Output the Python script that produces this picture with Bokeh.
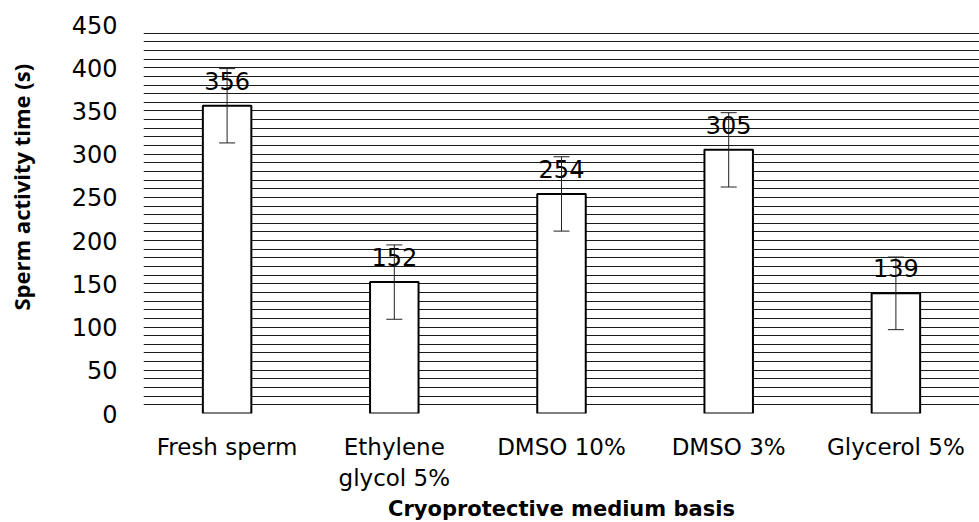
from bokeh.plotting import figure
from bokeh.models import FactorRange, Range1d, FixedTicker, ColumnDataSource, Whisker, TeeHead, Title
from bokeh.core.properties import value
from bokeh.embed import file_html
from bokeh.resources import INLINE

categories = ["Fresh sperm", "Ethylene\nglycol 5%", "DMSO 10%", "DMSO 3%", "Glycerol 5%"]
values = [356, 152, 254, 305, 139]
errors = [43, 43, 43, 43, 42]
y_ticks = [0, 50, 100, 150, 200, 250, 300, 350, 400, 450]
grid_ticks = list(range(10, 450, 10))
x_title = "Cryoprotective medium basis"
y_title = "Sperm activity time (s)"

src = ColumnDataSource(dict(
    x=categories,
    top=values,
    upper=[v + e for v, e in zip(values, errors)],
    lower=[v - e for v, e in zip(values, errors)],
    label=[str(v) for v in values],
))

p = figure(
    width=979, height=522,
    x_range=FactorRange(*categories, range_padding=0),
    y_range=Range1d(0, 450),
    output_backend="svg", toolbar_location=None,
    min_border_left=143, min_border_right=0, min_border_top=24, min_border_bottom=109,
)
p.outline_line_color = None
p.background_fill_color = "white"

p.xgrid.grid_line_color = None
p.ygrid.ticker = FixedTicker(ticks=grid_ticks)
p.ygrid.grid_line_color = "#1a1a1a"
p.ygrid.grid_line_width = 1

p.vbar(x="x", top="top", width=0.29, source=src, fill_color="white",
       line_color="black", line_width=2)

wh = Whisker(source=src, base="x", upper="upper", lower="lower", level="overlay",
             line_color="#222222", line_width=1,
             upper_head=TeeHead(size=16, line_color="#222222", line_width=1),
             lower_head=TeeHead(size=16, line_color="#222222", line_width=1))
p.add_layout(wh)

p.text(x="x", y="top", text="label", source=src, text_align="center",
       text_baseline="alphabetic", y_offset=-25,
       text_font=value("DejaVu Sans"), text_font_size="24px", text_color="black")

p.yaxis.ticker = FixedTicker(ticks=y_ticks)
p.yaxis.axis_line_color = None
p.yaxis.major_tick_line_color = None
p.yaxis.minor_tick_line_color = None
p.yaxis.major_tick_out = 0
p.yaxis.major_label_standoff = 26
p.yaxis.major_label_text_font = "DejaVu Sans"
p.yaxis.major_label_text_font_size = "24px"
p.yaxis.major_label_text_color = "black"

p.xaxis.axis_line_color = None
p.xaxis.major_tick_line_color = None
p.xaxis.major_tick_out = 0
p.xaxis.major_label_standoff = 20
p.xaxis.major_label_text_font = "DejaVu Sans"
p.xaxis.major_label_text_font_size = "23px"
p.xaxis.major_label_text_color = "black"

p.add_layout(Title(text=x_title, align="center", standoff=2,
                   text_font="DejaVu Sans", text_font_style="bold",
                   text_font_size="21px", text_color="black"), "below")
# small blank spacer panel between tick labels and the y title
p.add_layout(Title(text="\u00a0", standoff=30, text_font_size="1px"), "left")
p.add_layout(Title(text=y_title, align="left", offset=103, standoff=0,
                   text_font="Open Sans", text_font_style="bold",
                   text_font_size="22px", text_color="black"), "left")

open("out.html", "w").write(file_html(p, INLINE))
